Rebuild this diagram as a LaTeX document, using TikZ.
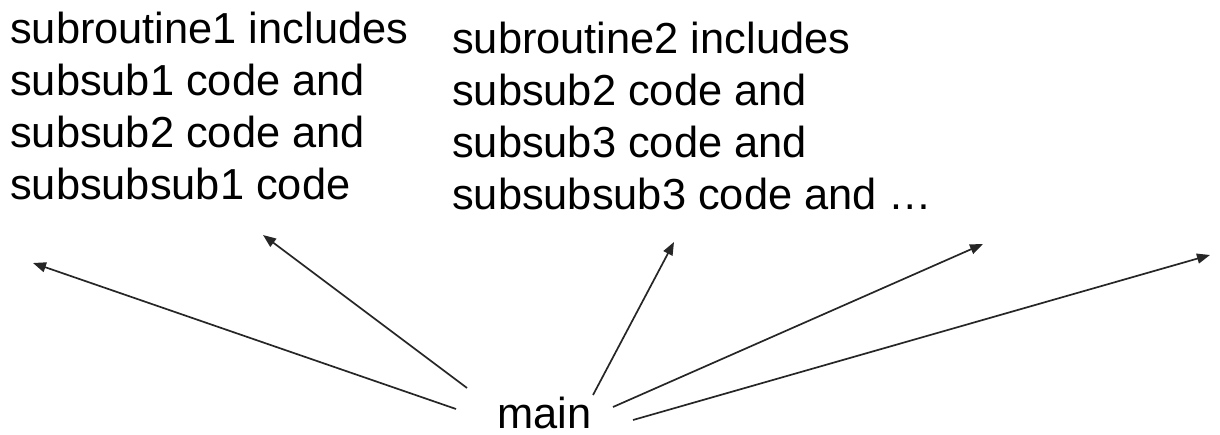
\documentclass[tikz,border=0pt]{standalone}
\usepackage{fontspec}
\setmainfont{Liberation Sans}
\usetikzlibrary{arrows.meta}
\begin{document}
\begin{tikzpicture}[x=1pt,y=-1pt,
  big text/.style={inner sep=0pt, font=\fontsize{43.4}{52}\selectfont},
  label text/.style={big text, align=left, anchor=north west},
  call/.style={draw=black!85, line width=1.7pt,
    -{Triangle[length=13pt,width=10pt]}}]
\useasboundingbox (0,0) rectangle (1220,435);
% text blocks
\node[label text] (sub1) at (10,12)
  {subroutine1 includes\\subsub1 code and\\subsub2 code and\\subsubsub1 code};
\node[label text] (sub2) at (452,22)
  {subroutine2 includes\\subsub2 code and\\subsub3 code and\\subsubsub3 code and …};
\node[big text, anchor=base west] (main) at (497,428) {main};
% start and end points of the call arrows
\coordinate (s1) at (456,409);
\coordinate (s2) at (467,388);
\coordinate (s3) at (593,395);
\coordinate (s4) at (613,407);
\coordinate (s5) at (633,420);
\coordinate (t1) at (33,263);
\coordinate (t2) at (263,235);
\coordinate (t3) at (674,242);
\coordinate (t4) at (983,244);
\coordinate (t5) at (1210,255);
\foreach \i in {1,...,5} \draw[call] (s\i) -- (t\i);
\end{tikzpicture}
\end{document}
